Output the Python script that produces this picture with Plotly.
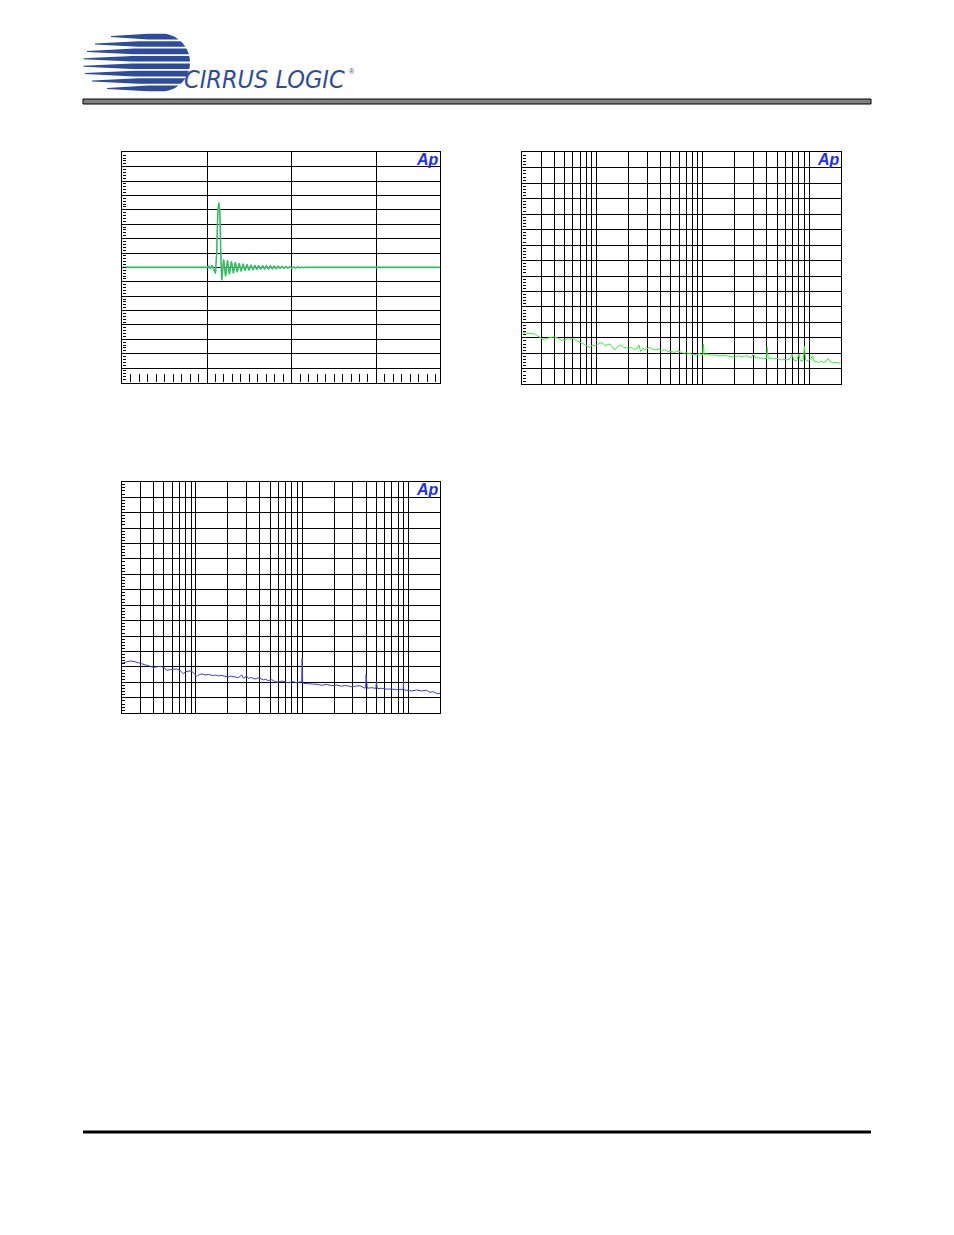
import plotly.graph_objects as go
import math

W, H = 954, 1235

# ---------------- data ----------------
# Chart 1: impulse response (time, amplitude) - two channels
imp_t = [0.0, 0.98, 1.00, 1.02, 1.04, 1.06, 1.08, 1.10, 1.115, 1.128, 1.14, 1.152, 1.162, 1.174,
         1.196, 1.219, 1.242, 1.265, 1.288, 1.311, 1.334, 1.357, 1.380, 1.403, 1.426, 1.449,
         1.472, 1.495, 1.518, 1.541, 1.564, 1.587, 1.610, 1.633, 1.656, 1.679, 1.702, 1.725,
         1.748, 1.771, 1.794, 1.817, 1.840, 1.863, 1.886, 1.909, 1.932, 1.955, 1.978, 2.001,
         2.024, 2.047, 2.070, 2.093, 2.116, 2.139, 2.162, 2.2, 3.75]
imp_a = [0, 0, 0, 0.008, -0.006, 0.014, -0.016, -0.042, 0.12, 0.40, 0.453, 0.37, 0.10, -0.090,
         0.055, -0.062, 0.050, -0.047, 0.043, -0.040, 0.036, -0.033, 0.030, -0.028, 0.025, -0.023,
         0.021, -0.020, 0.018, -0.017, 0.016, -0.015, 0.014, -0.013, 0.012, -0.012, 0.011, -0.010,
         0.010, -0.009, 0.009, -0.008, 0.008, -0.007, 0.007, -0.006, 0.006, -0.005, 0.005, -0.005,
         0.004, -0.004, 0.003, -0.003, 0.002, -0.002, 0.001, 0, 0]
imp_b = [0, 0, 0, 0.007, -0.006, 0.013, -0.015, -0.040, 0.10, 0.38, 0.445, 0.39, 0.12, -0.088,
         0.054, -0.060, 0.049, -0.046, 0.042, -0.039, 0.035, -0.032, 0.030, -0.027, 0.025, -0.023,
         0.021, -0.019, 0.018, -0.017, 0.016, -0.015, 0.014, -0.013, 0.012, -0.011, 0.011, -0.010,
         0.010, -0.009, 0.009, -0.008, 0.008, -0.007, 0.007, -0.006, 0.006, -0.005, 0.005, -0.004,
         0.004, -0.004, 0.003, -0.003, 0.002, -0.002, 0.001, 0, 0]

# Chart 2: FFT noise floor (green)
fft2_f = [20, 23, 26.3, 29, 31.5, 33.9, 36.5, 39.2, 42.1, 44.5, 46.9, 50.4, 53, 56.2, 60.4, 63.5,
          67.3, 71, 75.0, 80.7, 86.7, 91.2, 96.7, 103.8, 110, 115.8, 120, 124.4, 129, 133.8, 139,
          143.8, 149, 158, 164, 169.7, 177, 185, 199, 214, 225, 238, 251, 260, 275, 285, 296, 318,
          335, 355, 381, 395, 410, 430, 457, 480, 509, 547, 580, 610, 656, 690, 730, 770, 814, 875,
          941, 977, 1000, 1012, 1033, 1080, 1127, 1210, 1302, 1400, 1506, 1620, 1739, 1860, 1980,
          2160, 2322, 2450, 2586, 2750, 2882, 2989, 3098, 3300, 3580, 3800, 3990, 4040, 4137, 4400,
          4612, 4900, 5138, 5520, 5800, 6154, 6616, 6958, 7164, 7646, 8044, 8280, 8834, 9040, 9294,
          9845, 10400, 10816, 11132, 12230, 13000, 13630, 14500, 15190, 15746, 16600, 17550, 18500,
          19558, 20000]
fft2_db = [-116.6, -116.9, -117.5, -119.5, -120.9, -120.3, -119.6, -119.4, -119.8, -121.0, -121.6,
           -121.3, -120.6, -120.7, -120.3, -121.2, -122.4, -123.2, -123.9, -125.0, -126.3, -124.6,
           -125.2, -123.9, -123.1, -123.9, -125.0, -124.6, -124.2, -123.9, -125.4, -126.3, -127.8,
           -125.6, -124.8, -124.6, -126.0, -126.1, -126.7, -126.3, -127.4, -127.2, -124.6, -128.9,
           -126.7, -127.6, -127.2, -126.1, -127.2, -127.8, -127.2, -128.0, -128.4, -127.6, -128.2,
           -128.9, -128.9, -129.3, -128.5, -128.9, -130.0, -129.6, -130.0, -130.4, -130.6, -131.0,
           -130.0, -131.5, -131.0, -123.9, -131.0, -130.4, -130.6, -131.2, -131.0, -131.6, -131.5,
           -131.3, -131.7, -131.9, -132.5, -131.5, -132.3, -131.9, -131.5, -132.2, -132.8, -130.4,
           -132.8, -132.9, -133.2, -133.0, -133.4, -126.1, -133.4, -133.0, -133.6, -133.3, -133.8,
           -134.3, -133.9, -134.3, -133.6, -130.4, -134.3, -134.7, -130.4, -134.9, -134.5, -125.2,
           -134.3, -134.9, -133.5, -131.5, -134.9, -135.8, -135.2, -136.0, -135.0, -133.2, -135.3,
           -136.0, -135.8, -136.2, -136.4, -136.0]

# Chart 3: FFT noise floor (blue)
fft3_f = [20, 21.5, 24.0, 26.7, 28.7, 32.0, 35.6, 39.7, 42.7, 45, 47.6, 51.1, 53.0, 56, 59.1, 65.9,
          70.8, 76.1, 80.1, 88.0, 94.5, 101.6, 105.4, 113.3, 121.7, 130.9, 138, 145.9, 154, 162.6,
          172, 181.2, 190, 201.9, 212, 225, 238, 250.8, 269.6, 279.6, 300.4, 311.4, 334.8, 359.8,
          380, 401, 431, 455, 480, 516, 555, 597, 641, 689, 741, 790, 826, 888, 954, 990, 1000,
          1012, 1033, 1143, 1230, 1321, 1420, 1526, 1701, 1896, 2113, 2354, 2520, 2722, 2900, 3145,
          3504, 3904, 3960, 4000, 4060, 4108, 4512, 4850, 4950, 5000, 5050, 5102, 5604, 6244, 6958,
          7756, 8644, 8950, 9000, 9050, 9226, 9988, 10740, 11970, 13340, 14860, 15980, 17170,
          18460, 20000]
fft3_db = [-117.6, -117.0, -116.1, -116.6, -117.2, -118.3, -119.1, -120.2, -120.0, -119.6, -119.8,
           -120.9, -122.2, -121.8, -121.5, -121.3, -122.2, -124.3, -123.0, -122.6, -123.5, -126.3,
           -125.2, -124.5, -125.2, -124.8, -125.4, -125.6, -125.2, -125.8, -125.4, -125.6, -126.0,
           -126.5, -125.9, -126.1, -126.6, -126.9, -125.2, -127.3, -125.8, -127.3, -126.9, -127.8,
           -127.1, -127.3, -128.4, -128.0, -128.9, -128.2, -129.5, -129.9, -129.1, -129.9, -130.2,
           -129.8, -129.5, -130.2, -129.5, -129.5, -114.4, -130.4, -130.6, -130.8, -130.6, -131.0,
           -131.3, -131.9, -131.2, -132.1, -131.7, -132.5, -132.0, -132.3, -132.8, -132.5, -132.1,
           -133.8, -133.6, -124.8, -133.8, -133.8, -133.4, -133.8, -133.9, -129.5, -134.0, -134.0,
           -133.8, -134.3, -134.3, -134.7, -134.5, -134.6, -129.5, -134.9, -134.9, -135.1, -135.5,
           -134.9, -135.5, -135.1, -136.4, -136.0, -137.1, -137.1]

log_grid = [30, 40, 50, 60, 70, 80, 90, 100, 200, 300, 400, 500, 600, 700, 800, 900,
            1000, 2000, 3000, 4000, 5000, 6000, 7000, 8000, 9000, 10000]

# ---------------- layout helpers ----------------
def X(px):
    return px / W

def Y(py):
    return 1 - py / H

BOX1 = (122.3, 152.3, 440.0, 382.5)
BOX2 = (522.3, 152.3, 841.0, 384.3)
BOX3 = (121.7, 481.7, 440.3, 713.3)

fig = go.Figure()
fig.add_trace(go.Scatter(x=imp_t, y=imp_b, mode="lines", line=dict(color="#8fb2c2", width=1.6),
                         xaxis="x", yaxis="y", hoverinfo="skip"))
fig.add_trace(go.Scatter(x=imp_t, y=imp_a, mode="lines", line=dict(color="#1fc84a", width=1.1),
                         xaxis="x", yaxis="y", hoverinfo="skip"))
fig.add_trace(go.Scatter(x=fft2_f, y=fft2_db, mode="lines", line=dict(color="#3cec3c", width=1),
                         xaxis="x2", yaxis="y2", hoverinfo="skip"))
fig.add_trace(go.Scatter(x=fft3_f, y=fft3_db, mode="lines", line=dict(color="#3a3af0", width=1),
                         xaxis="x3", yaxis="y3", hoverinfo="skip"))

grid = dict(showgrid=True, gridcolor="black", gridwidth=1.4, showline=True, linecolor="black",
            linewidth=1.4, mirror=True, showticklabels=False, fixedrange=True)

def ydb(box, anchor):
    return dict(grid, domain=[Y(box[3]), Y(box[1])], range=[-150, 0], tick0=0, dtick=10,
                anchor=anchor, zeroline=False, ticks="inside", ticklen=3, tickcolor="black",
                minor=dict(ticks="inside", ticklen=3, dtick=2, tickcolor="black", showgrid=False))

def xlog(box, anchor):
    return dict(grid, domain=[X(box[0]), X(box[2])], type="log",
                range=[1.30103, 4.30103], tickvals=log_grid, ticks="", anchor=anchor)

fig.update_layout(
    width=W, height=H, autosize=False, margin=dict(l=0, r=0, t=0, b=0),
    paper_bgcolor="white", plot_bgcolor="white", showlegend=False,
    xaxis=dict(grid, domain=[X(BOX1[0]), X(BOX1[2])], range=[0, 3.75], tick0=0, dtick=1,
               anchor="y", zeroline=False, ticks="inside", ticklen=8, tickcolor="black",
               minor=dict(ticks="inside", ticklen=8, dtick=0.1, tickcolor="black", showgrid=False)),
    yaxis=dict(grid, domain=[Y(BOX1[3]), Y(BOX1[1])], range=[-0.8, 0.8], tick0=0, dtick=0.1,
               anchor="x", zeroline=True, zerolinecolor="black", zerolinewidth=1.4,
               ticks="inside", ticklen=3, tickcolor="black",
               minor=dict(ticks="inside", ticklen=3, dtick=0.02, tickcolor="black", showgrid=False)),
    xaxis2=xlog(BOX2, "y2"), yaxis2=ydb(BOX2, "x2"),
    xaxis3=xlog(BOX3, "y3"), yaxis3=ydb(BOX3, "x3"),
)

# "Ap" marks
for box in (BOX1, BOX2, BOX3):
    fig.add_annotation(x=X(box[2] + 1), y=Y(box[1] - 3), xref="paper", yref="paper",
                       xanchor="right", yanchor="top", showarrow=False,
                       text="<b><i>Ap</i></b>",
                       font=dict(family="Liberation Sans, Arial, sans-serif", size=16, color="#1a2cff"))

shapes = []
# header bar
shapes.append(dict(type="rect", xref="paper", yref="paper", x0=X(83), x1=X(871), y0=Y(104), y1=Y(99),
                   fillcolor="#808080", line=dict(color="black", width=1)))
# footer rule
shapes.append(dict(type="line", xref="paper", yref="paper", x0=X(83), x1=X(871), y0=Y(1132), y1=Y(1132),
                   line=dict(color="black", width=3)))

# logo globe with speed stripes
cx, cy, r = 161.0, 62.5, 29.0
centers = [36.6, 44.0, 51.4, 58.8, 66.2, 73.6, 81.0, 88.4]
tips = [111, 95, 87, 83.5, 83.5, 85, 92, 107]
hh = 2.8

def circ_x(yy, side):
    d = r * r - (yy - cy) ** 2
    d = math.sqrt(d) if d > 0 else 0.0
    return cx + side * d

for yc, xt in zip(centers, tips):
    yt, yb = yc - hh, yc + hh
    xf = max(circ_x(yc, -1), xt + 12)
    pts = [(xt, yc - 0.5), (xf, yt)]
    n = 8
    for k in range(n + 1):
        yy = yt + (yb - yt) * k / n
        pts.append((circ_x(yy, 1), yy))
    pts.append((xf, yb))
    pts.append((xt, yc + 0.5))
    path = "M " + " L ".join(f"{X(px):.5f},{Y(py):.5f}" for px, py in pts) + " Z"
    shapes.append(dict(type="path", xref="paper", yref="paper", path=path,
                       fillcolor="#2f4c9c", line=dict(width=0)))

fig.update_layout(shapes=shapes)

fig.add_annotation(x=X(182), y=Y(80), xref="paper", yref="paper", xanchor="left", yanchor="middle",
                   showarrow=False, text="<i>CIRRUS LOGIC</i>",
                   font=dict(family="Liberation Sans Narrow, DejaVu Sans Condensed, Arial Narrow, sans-serif",
                             size=25, color="#2f4c9c"))
fig.add_annotation(x=X(347), y=Y(72), xref="paper", yref="paper", xanchor="left", yanchor="middle",
                   showarrow=False, text="®",
                   font=dict(family="Liberation Sans, Arial, sans-serif", size=7, color="#2f4c9c"))

fig.write_html("out.html", config={"displayModeBar": False},
               post_script="document.body.style.margin='0px';")
